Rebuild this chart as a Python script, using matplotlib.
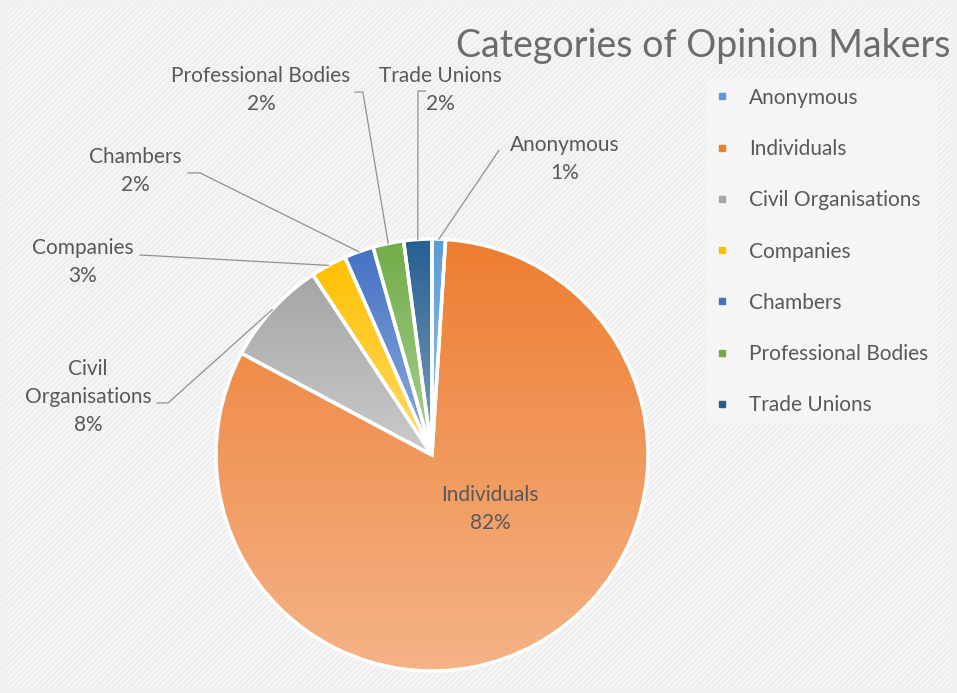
import numpy as np
import matplotlib
matplotlib.use('Agg')
import matplotlib.pyplot as plt
from matplotlib.colors import to_rgb
from matplotlib.lines import Line2D
from matplotlib.patches import Rectangle

categories = ['Anonymous', 'Individuals', 'Civil Organisations', 'Companies',
              'Chambers', 'Professional Bodies', 'Trade Unions']
shares = [1.0, 81.8, 7.9, 2.7, 2.2, 2.3, 2.1]
pct_labels = ['1%', '82%', '8%', '3%', '2%', '2%', '2%']
slice_labels = ['Anonymous', 'Individuals', 'Civil\nOrganisations', 'Companies',
                'Chambers', 'Professional Bodies', 'Trade Unions']
colors = ['#5B9BD5', '#ED7D31', '#A5A5A5', '#FFC000', '#4472C4', '#70AD47', '#255E91']

# label block centres, in pie-radius units (pie centre at 0,0)
label_pos = [(0.616, 1.37), (0.269, -0.25), (-1.593, 0.269), (-1.616, 0.895),
             (-1.375, 1.315), (-0.792, 1.69), (0.037, 1.69)]
# where each leader line leaves its label (None = label inside the slice)
leader_from = [(0.31, 1.41), None, (-1.273, 0.241), (-1.352, 0.926),
               (-1.13, 1.306), (-0.356, 1.68), (-0.03, 1.685)]
leader_knee = [None, None, (-1.222, 0.241), None,
               (-1.074, 1.306), (-0.32, 1.68), (-0.065, 1.685)]

txt = '#595959'
plt.rcParams['font.family'] = ['Lato', 'DejaVu Sans']
plt.rcParams['hatch.linewidth'] = 0.6

fig = plt.figure(figsize=(9.57, 6.93), dpi=100)
fig.patch.set_facecolor('#f1f1f1')
bg = Rectangle((0.006, 0.006), 0.988, 0.988, transform=fig.transFigure,
               facecolor='#f5f5f5', edgecolor='#e6e6e6', hatch='//////', lw=0, zorder=-5)
fig.patches.append(bg)

ax = fig.add_axes([0, 0, 1, 1])
ax.patch.set_alpha(0)

wedges, _ = ax.pie(shares, colors=colors, startangle=90, counterclock=False,
                   radius=1.0, wedgeprops=dict(edgecolor='white', linewidth=2.5))

# vertical gradient inside each wedge, darker at top
grad = np.linspace(0, 1, 256).reshape(-1, 1, 1)
for w, c in zip(wedges, colors):
    bb = w.get_path().get_extents()
    top = np.array(to_rgb(c))
    bot = top + (1 - top) * 0.42
    img = top + (bot - top) * grad
    im = ax.imshow(img, extent=(bb.x0, bb.x1, bb.y0, bb.y1), origin='upper',
                   aspect='auto', zorder=1)
    im.set_clip_path(w)
    w.set_facecolor('none')
    w.set_zorder(2)

# labels and leader lines
cum = np.cumsum([0] + shares[:-1])
for i, w in enumerate(wedges):
    mid = np.deg2rad(90 - (cum[i] + shares[i] / 2) / 100 * 360)
    end = (np.cos(mid), np.sin(mid))
    lx, ly = label_pos[i]
    ax.text(lx, ly, slice_labels[i] + '\n' + pct_labels[i], ha='center', va='center',
            fontsize=15, color=txt, linespacing=1.5, zorder=4)
    if leader_from[i] is not None:
        pts = [leader_from[i]]
        if leader_knee[i] is not None:
            pts.append(leader_knee[i])
        pts.append(end)
        xs, ys = zip(*pts)
        ax.add_line(Line2D(xs, ys, color='#909090', lw=0.9, zorder=3))

ax.set_xlim(-432 / 216, (957 - 432) / 216)
ax.set_ylim((455 - 693) / 216, 455 / 216)
ax.set_aspect('auto')
ax.axis('off')

fig.text(950 / 957, 1 - 46 / 693, 'Categories of Opinion Makers', ha='right', va='center',
         fontsize=27, color='#6c6c6c')

handles = [Line2D([], [], marker='s', ls='none', markersize=5, color=c) for c in colors]
leg = fig.legend(handles, categories, loc='upper left', bbox_to_anchor=(697 / 957, 1 - 69 / 693),
                 frameon=True, fontsize=15, labelspacing=1.5, handlelength=0.6,
                 handletextpad=1.0, borderpad=0.4)
leg.get_frame().set_facecolor('#f7f7f7')
leg.get_frame().set_edgecolor('none')
for t in leg.get_texts():
    t.set_color(txt)

fig.savefig('out.png', dpi=100, facecolor=fig.get_facecolor())
